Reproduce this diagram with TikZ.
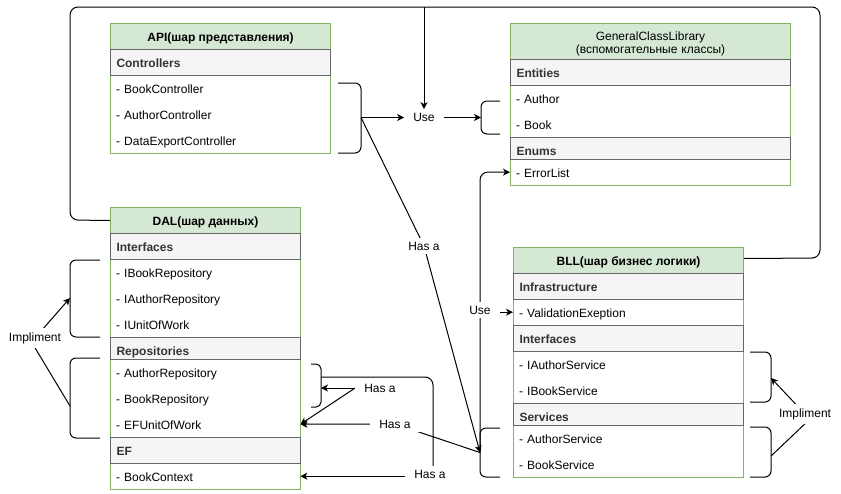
\documentclass[tikz,border=0pt]{standalone}
\usepackage{fontspec}
\setmainfont{Liberation Sans}
\usetikzlibrary{arrows.meta}

\definecolor{grnline}{HTML}{82B366}
\definecolor{grnfill}{HTML}{D5E8D4}
\definecolor{gryline}{HTML}{666666}
\definecolor{gryfill}{HTML}{F5F5F5}
\definecolor{txt}{HTML}{333333}

\newcommand\basefont{\fontsize{12}{13}\selectfont}

\pgfdeclarelayer{edges}
\pgfsetlayers{edges,main}

\tikzset{
  frame/.style={draw=grnline, fill=white, line width=1pt, anchor=north west,
    inner sep=0pt, minimum width=#1},
  headbox/.style={draw=grnline, fill=grnfill, line width=1pt, anchor=north west,
    inner sep=0pt, minimum height=26pt, minimum width=#1, align=center,
    text height=10.6pt, text depth=0pt, font=\basefont\bfseries, text=black},
  secbox/.style={draw=gryline, fill=gryfill, line width=1pt, anchor=north west,
    inner xsep=6pt, inner ysep=0pt, minimum height=26pt, text width=#1,
    text height=10.6pt, text depth=0pt,
    align=left, font=\basefont\bfseries, text=txt},
  shortsec/.style={secbox=#1, minimum height=22pt, text height=14.6pt},
  itembox/.style={anchor=north west, inner xsep=6pt, inner ysep=0pt,
    minimum height=26pt, text width=#1, text height=10.6pt, text depth=0pt,
    align=left, font=\basefont, text=black},
  lbl/.style={fill=white, inner xsep=9pt, inner ysep=4pt, font=\basefont, text=black},
  link/.style={draw, line width=1pt, rounded corners=8pt},
  arr/.style={link, -{Stealth[length=7pt,width=7pt,inset=2pt]}},
  brk/.style={draw, line width=1pt, rounded corners=6pt},
}

\begin{document}
\begin{tikzpicture}[x=1pt,y=-1pt]
\useasboundingbox (0,0) rectangle (841,493);

% ---------- API layer ----------
\node[frame=220pt, minimum height=130pt] (api) at (110,23) {};
\node[headbox=220pt] (api-h) at (110,23) {API(шар представления)};
\node[secbox=208pt] (api-c) at (110,49) {Controllers};
\node[itembox=208pt] (api-1) at (110,75) {- BookController};
\node[itembox=208pt] (api-2) at (110,101) {- AuthorController};
\node[itembox=208pt] (api-3) at (110,127) {- DataExportController};

% ---------- GeneralClassLibrary ----------
\node[frame=280pt, minimum height=162pt] (gcl) at (510,23) {};
\node[headbox=280pt, minimum height=36pt, inner xsep=0pt, text width=280pt,
  text height=10pt, text depth=13pt, font=\basefont] (gcl-h) at (510,23)
  {GeneralClassLibrary\\(вспомогательные классы)};
\node[secbox=268pt] (gcl-ent) at (510,59) {Entities};
\node[itembox=268pt] (gcl-a) at (510,85) {- Author};
\node[itembox=268pt] (gcl-b) at (510,111) {- Book};
\node[shortsec=268pt] (gcl-en) at (510,137) {Enums};
\node[itembox=268pt] (gcl-e) at (510,159) {- ErrorList};

% ---------- DAL layer ----------
\node[frame=190pt, minimum height=282pt] (dal) at (110,207) {};
\node[headbox=190pt] (dal-h) at (110,207) {DAL(шар данных)};
\node[secbox=178pt] (dal-int) at (110,233) {Interfaces};
\node[itembox=178pt] (dal-i1) at (110,259) {- IBookRepository};
\node[itembox=178pt] (dal-i2) at (110,285) {- IAuthorRepository};
\node[itembox=178pt] (dal-i3) at (110,311) {- IUnitOfWork};
\node[shortsec=178pt] (dal-rep) at (110,337) {Repositories};
\node[itembox=178pt] (dal-r1) at (110,359) {- AuthorRepository};
\node[itembox=178pt] (dal-r2) at (110,385) {- BookRepository};
\node[itembox=178pt] (dal-r3) at (110,411) {- EFUnitOfWork};
\node[secbox=178pt] (dal-ef) at (110,437) {EF};
\node[itembox=178pt] (dal-bc) at (110,463) {- BookContext};

% ---------- BLL layer ----------
\node[frame=230pt, minimum height=230pt] (bll) at (513,247) {};
\node[headbox=230pt] (bll-h) at (513,247) {BLL(шар бизнес логики)};
\node[secbox=218pt] (bll-inf) at (513,273) {Infrastructure};
\node[itembox=218pt] (bll-v) at (513,299) {- ValidationExeption};
\node[secbox=218pt] (bll-int) at (513,325) {Interfaces};
\node[itembox=218pt] (bll-i1) at (513,351) {- IAuthorService};
\node[itembox=218pt] (bll-i2) at (513,377) {- IBookService};
\node[shortsec=218pt] (bll-srv) at (513,403) {Services};
\node[itembox=218pt] (bll-s1) at (513,425) {- AuthorService};
\node[itembox=218pt] (bll-s2) at (513,451) {- BookService};

% ---------- edge labels ----------
\node[lbl] (use1) at (424,117.5) {Use};
\node[lbl] (use2) at (480,310) {Use};
\node[lbl] (hasa1) at (424,246) {Has a};
\node[lbl] (hasa2) at (380,388) {Has a};
\node[lbl] (hasa3) at (395,424) {Has a};
\node[lbl] (hasa4) at (430,474) {Has a};
\node[lbl, inner xsep=2pt] (impl1) at (35,338) {Impliment};
\node[lbl, inner xsep=2pt] (impl2) at (805,414) {Impliment};

% bracket mid points and junctions
\coordinate (topj) at (424,7);
\coordinate (api-br) at (361,117.5);
\coordinate (gcl-br) at (481,117.5);
\coordinate (bll-br) at (480,452.5);
\coordinate (rep-br) at (321,388);
\coordinate (rep-top) at (321,377);
\coordinate (dal-ibr) at (70,298);
\coordinate (dal-rbr) at (70,406);
\coordinate (bll-ibr) at (771,378);
\coordinate (bll-sbr) at (771,456);

\begin{pgfonlayer}{edges}
  % brackets
  \draw[brk] (338,83) -- (361,83) -- (361,153) -- (338,153);
  \draw[brk] (500,101) -- (481,101) -- (481,134) -- (500,134);
  \draw[brk] (500,428) -- (480,428) -- (480,477) -- (500,477);
  \draw[brk, rounded corners=5pt] (311,364) -- (321,364) -- (321,407) -- (311,407);
  \draw[brk] (100,260) -- (70,260) -- (70,337) -- (100,337);
  \draw[brk] (100,358) -- (70,358) -- (70,438) -- (100,438);
  \draw[brk] (750,352) -- (771,352) -- (771,402) -- (750,402);
  \draw[brk] (750,427) -- (771,427) -- (771,477) -- (750,477);

  % outer loop between DAL and BLL headers
  \draw[link] (dal-h.west) -- (70,220) -- (70,7) -- (820,7) -- (820,258)
    -- ([yshift=2pt]bll-h.east);
  \draw[arr] (topj) -- (use1.north);

  % API uses GeneralClassLibrary
  \draw[arr] (api-br) -- (use1.west);
  \draw[arr] (use1.east) -- (gcl-br);

  % API has a BLL
  \draw[arr] (api-br) -- (hasa1.center) -- (bll-br);

  % BLL uses ErrorList and ValidationExeption
  \draw[arr] (bll-br) -- (480,172) -- (gcl-e.west);
  \draw[arr] (use2.east |- bll-v.west) -- (bll-v.west);

  % BLL / DAL "has a"
  \draw[link] (bll-br) -- (hasa3.center);
  \draw[arr] (hasa3.west) -- (dal-r3.east);
  \draw[arr] (hasa2.west) -- (rep-br);
  \draw[arr] (hasa2.west) -- (dal-r3.east);
  \draw[link] (rep-top) -- (433,377) -- (433,474);
  \draw[arr] (hasa4.west |- dal-bc.east) -- (dal-bc.east);

  % implementations
  \draw[arr] (impl1.center) -- (dal-ibr);
  \draw[link] (impl1.south) -- (dal-rbr);
  \draw[arr] (impl2.center) -- (bll-ibr);
  \draw[link] (impl2.south) -- (bll-sbr);
\end{pgfonlayer}
\end{tikzpicture}
\end{document}
